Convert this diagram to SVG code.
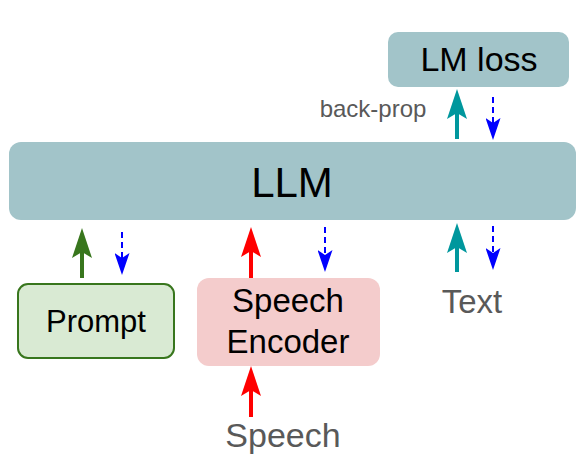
<svg xmlns="http://www.w3.org/2000/svg" width="588" height="454" viewBox="0 0 588 454">
<style>
.box{fill:#a2c4c9}
.t{font-family:"Liberation Sans",Arial,sans-serif;text-anchor:middle;fill:#000}
.g{font-family:"Liberation Sans",Arial,sans-serif;text-anchor:middle;fill:#595959}
.solid{fill:none;stroke-width:4}
.dash{fill:none;stroke:#0000ff;stroke-width:2;stroke-dasharray:6,4}
</style>
<defs>
<marker id="hg" markerUnits="userSpaceOnUse" markerWidth="30" markerHeight="20" refX="6" refY="10" orient="auto" viewBox="0 0 30 20"><path d="M0,0 L30,10 L0,20 L6,10 Z" fill="#38761d"/></marker>
<marker id="hr" markerUnits="userSpaceOnUse" markerWidth="30" markerHeight="20" refX="6" refY="10" orient="auto" viewBox="0 0 30 20"><path d="M0,0 L30,10 L0,20 L6,10 Z" fill="#ff0000"/></marker>
<marker id="ht" markerUnits="userSpaceOnUse" markerWidth="30" markerHeight="20" refX="6" refY="10" orient="auto" viewBox="0 0 30 20"><path d="M0,0 L30,10 L0,20 L6,10 Z" fill="#00979d"/></marker>
<marker id="hb" markerUnits="userSpaceOnUse" markerWidth="22" markerHeight="15" refX="5" refY="7.5" orient="auto" viewBox="0 0 22 15"><path d="M0,0 L22,7.5 L0,15 L5,7.5 Z" fill="#0000ff"/></marker>
</defs>
<g id="llm"><rect class="box" x="9" y="142" width="567" height="78" rx="12"/><text class="t" x="292" y="197" font-size="42">LLM</text></g>
<g id="lmloss"><rect class="box" x="388" y="32" width="181" height="55" rx="10"/><text class="t" x="479" y="71" font-size="34">LM loss</text></g>
<g id="prompt"><rect x="18" y="284" width="156" height="74" rx="10" fill="#d9ead3" stroke="#38761d" stroke-width="2"/><text class="t" x="96" y="332" font-size="31">Prompt</text></g>
<g id="encoder"><rect x="197" y="278" width="183" height="88" rx="12" fill="#f4cccc"/><text class="t" x="288" y="312" font-size="33">Speech</text><text class="t" x="288" y="353" font-size="33">Encoder</text></g>
<g id="speech"><text class="g" x="283" y="447" font-size="34">Speech</text></g>
<g id="text"><text class="g" x="472" y="313" font-size="33">Text</text></g>
<g id="backprop"><text class="g" x="373" y="117" font-size="24">back-prop</text></g>
<g id="connectors">
<path class="solid" stroke="#38761d" d="M82,278 V252" marker-end="url(#hg)"/>
<path class="dash" d="M122,232 V258" marker-end="url(#hb)"/>
<path class="solid" stroke="#ff0000" d="M251,278 V251" marker-end="url(#hr)"/>
<path class="dash" d="M325,227 V255" marker-end="url(#hb)"/>
<path class="solid" stroke="#ff0000" d="M251,417 V390" marker-end="url(#hr)"/>
<path class="solid" stroke="#00979d" d="M457,272 V247" marker-end="url(#ht)"/>
<path class="dash" d="M493,226 V253" marker-end="url(#hb)"/>
<path class="solid" stroke="#00979d" d="M457,139 V113" marker-end="url(#ht)"/>
<path class="dash" d="M493,97 V123" marker-end="url(#hb)"/>
</g>
</svg>
